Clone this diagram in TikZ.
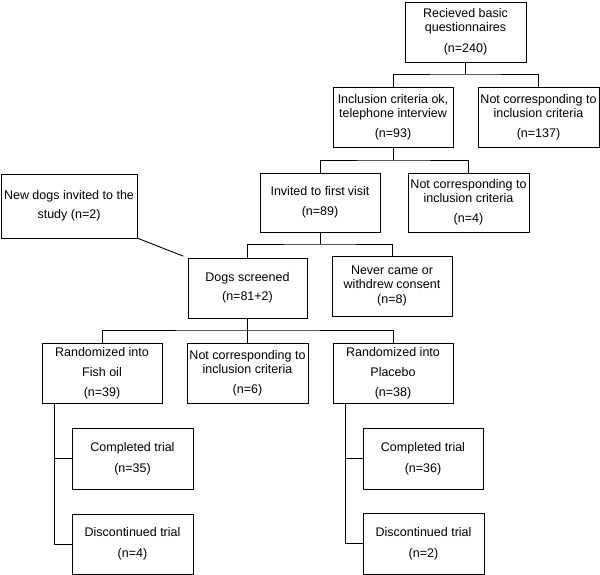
\documentclass[tikz,border=0pt]{standalone}
\usepackage{fontspec}
\setmainfont{Liberation Sans}
\begin{document}
\begin{tikzpicture}[x=1pt,y=-1pt,
  box/.style={draw=black,line width=0.9pt,rectangle,inner sep=1pt,outer sep=0pt,align=center,
    font=\fontsize{12.5}{14}\selectfont},
  conn/.style={draw=black,line width=0.9pt}]
\useasboundingbox (0,0) rectangle (600,575);
% boxes
\node[box,minimum width=121pt,minimum height=60pt] (b1) at (465.5,32) {Recieved basic\\questionnaires\\[7pt](n=240)};
\node[box,minimum width=120pt,minimum height=60pt] (b2) at (393,117) {Inclusion criteria ok,\\telephone interview\\[6pt](n=93)};
\node[box,minimum width=121pt,minimum height=60pt] (b3) at (538.5,117) {Not corresponding to\\inclusion criteria\\[6pt](n=137)};
\node[box,minimum width=120pt,minimum height=59pt] (b4) at (320,202.5) {Invited to first\hspace{3pt}visit\\[6pt](n=89)};
\node[box,minimum width=121pt,minimum height=59pt] (b5) at (468.5,202.5) {Not corresponding to\\inclusion criteria\\[6pt](n=4)};
\node[box,minimum width=136pt,minimum height=64pt] (bn) at (69,206) {New dogs invited to the\\[5pt]study (n=2)};
\node[box,minimum width=119pt,minimum height=60pt] (b6) at (247.5,288) {Dogs screened\\[5pt](n=81+2)};
\node[box,minimum width=120pt,minimum height=60pt] (b7) at (392,286) {Never came or\\withdrew consent\\[1pt](n=8)};
\node[box,minimum width=120pt,minimum height=60pt] (b8) at (102,373) {Randomized into\\[6pt]Fish oil\\[6pt](n=39)};
\node[box,minimum width=121pt,minimum height=60pt] (b9) at (247.5,373) {Not corresponding to\\inclusion criteria\\[6pt](n=6)};
\node[box,minimum width=120pt,minimum height=60pt] (b10) at (393,373) {Randomized into\\[6pt]Placebo\\[6pt](n=38)};
\node[box,minimum width=121pt,minimum height=61pt] (c1) at (132.5,458.5) {Completed trial\\[7pt](n=35)};
\node[box,minimum width=121pt,minimum height=60pt] (d1) at (132.5,544) {Discontinued trial\\[7pt](n=4)};
\node[box,minimum width=120pt,minimum height=61pt] (c2) at (423,458.5) {Completed trial\\[7pt](n=36)};
\node[box,minimum width=121pt,minimum height=61pt] (d2) at (423.5,543.5) {Discontinued trial\\[7pt](n=2)};
% junctions
\coordinate (j1) at (465.5,74);
\coordinate (j2) at (393,160);
\coordinate (j3) at (320,244);
\coordinate (j4) at (247.5,330);
\coordinate (t1) at (54,403);
\coordinate (t2) at (345,403);
% connectors
\draw[conn] (b1.south) -- (j1);
\draw[conn] (b2.north) |- (j1) -| (b3.north);
\draw[conn] (b2.south) -- (j2);
\draw[conn] (b4.north) |- (j2) -| (b5.north);
\draw[conn] (b4.south) -- (j3);
\draw[conn] (b6.north) |- (j3) -| (b7.north);
\draw[conn] (b6.south) -- (j4);
\draw[conn] (b8.north) |- (j4) -| (b10.north);
\draw[conn] (b9.north) -- (j4);
\draw[conn,shorten >=5pt] (bn.south east) -- (b6.north west);
\draw[conn] (t1) |- (c1.west);
\draw[conn] (t1) |- (d1.west);
\draw[conn] (t2) |- (c2.west);
\draw[conn] (t2) |- (d2.west);
\end{tikzpicture}
\end{document}
